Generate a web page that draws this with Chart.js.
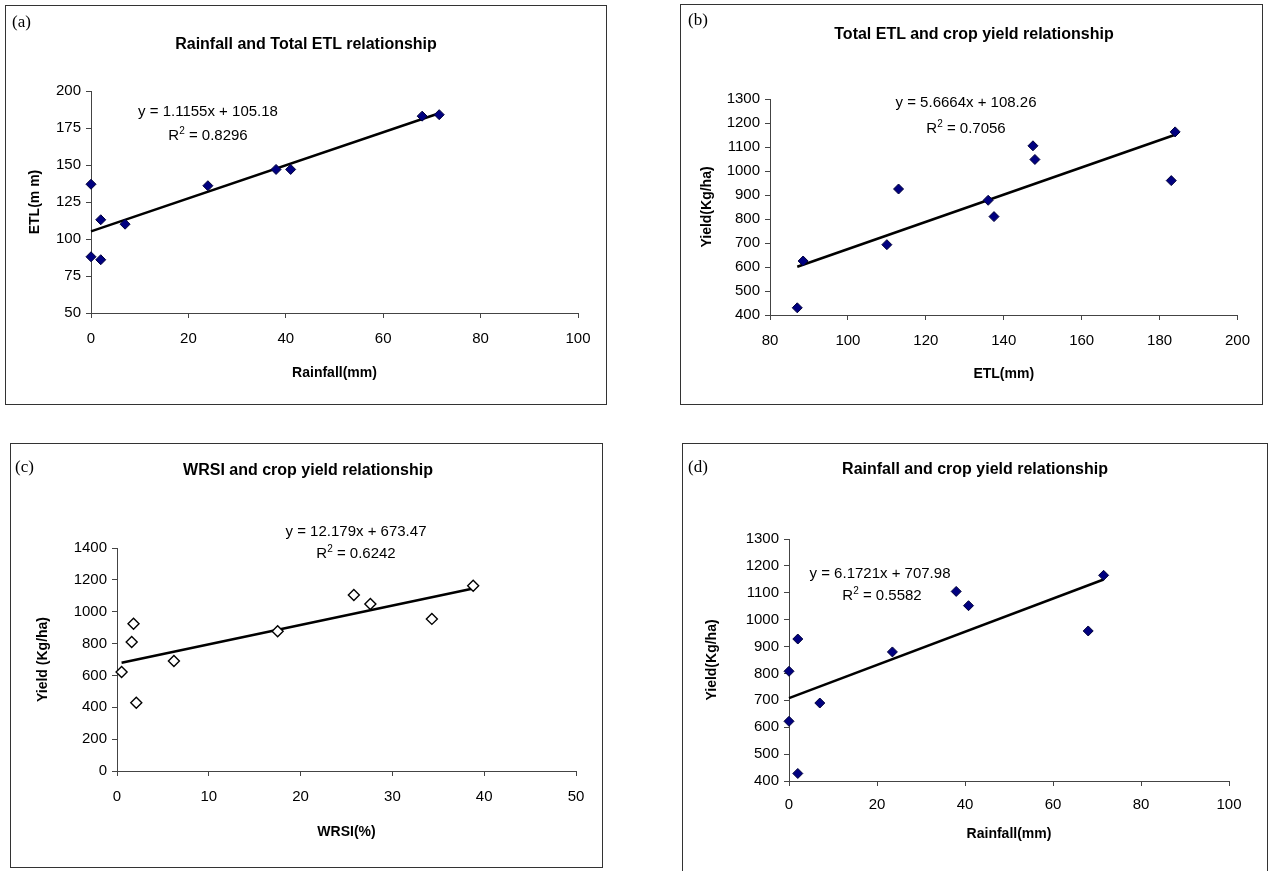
<!DOCTYPE html>
<html>
<head>
<meta charset="utf-8">
<script src="https://cdn.jsdelivr.net/npm/chart.js@4"></script>
<style>
  body { margin: 0; background: #fff; width: 1268px; height: 871px; position: relative; overflow: hidden; font-family: "Liberation Sans", Arial, sans-serif; }
  .box { position: absolute; border: 1.5px solid #333; box-sizing: border-box; }
  canvas { position: absolute; }
  .lbl { position: absolute; font-family: "Liberation Serif", serif; font-size: 17px; transform: translateY(-50%); }
  .ttl { position: absolute; font-weight: bold; font-size: 16px; transform: translate(-50%, -50%); white-space: nowrap; }
  .eq { position: absolute; font-size: 15px; transform: translate(-50%, -50%); white-space: nowrap; }
  .eq sup { font-size: 10px; }
</style>
</head>
<body>
<div class="box" style="left:5px;top:5px;width:602px;height:400px"></div>
<div class="box" style="left:680px;top:4px;width:583px;height:401px"></div>
<div class="box" style="left:10px;top:443px;width:593px;height:425px"></div>
<div class="box" style="left:682px;top:443px;width:586px;height:430px"></div>

<canvas id="chartA" style="left:6px;top:6px" width="600" height="398"></canvas>
<canvas id="chartB" style="left:681px;top:5px" width="581" height="399"></canvas>
<canvas id="chartC" style="left:11px;top:444px" width="591" height="423"></canvas>
<canvas id="chartD" style="left:683px;top:444px" width="583" height="425"></canvas>

<div class="lbl" style="left:12px;top:22px">(a)</div>
<div class="lbl" style="left:688px;top:20px">(b)</div>
<div class="lbl" style="left:15px;top:467px">(c)</div>
<div class="lbl" style="left:688px;top:467px">(d)</div>

<div class="ttl" style="left:306px;top:44px">Rainfall and Total ETL relationship</div>
<div class="ttl" style="left:974px;top:34px">Total ETL and crop yield relationship</div>
<div class="ttl" style="left:308px;top:470px">WRSI and crop yield relationship</div>
<div class="ttl" style="left:975px;top:469px">Rainfall and crop yield relationship</div>

<div class="eq" style="left:208px;top:110px">y = 1.1155x + 105.18</div>
<div class="eq" style="left:208px;top:134px">R<sup>2</sup> = 0.8296</div>
<div class="eq" style="left:966px;top:101px">y = 5.6664x + 108.26</div>
<div class="eq" style="left:966px;top:127px">R<sup>2</sup> = 0.7056</div>
<div class="eq" style="left:356px;top:530px">y = 12.179x + 673.47</div>
<div class="eq" style="left:356px;top:552px">R<sup>2</sup> = 0.6242</div>
<div class="eq" style="left:880px;top:572px">y = 6.1721x + 707.98</div>
<div class="eq" style="left:882px;top:594px">R<sup>2</sup> = 0.5582</div>

<script>
// (a) rainfall vs total ETL
const rainfallA = [0, 0, 2, 2, 7, 24, 38, 41, 68, 71.5];
const etlA = [137, 88, 113, 86, 110, 136, 147, 147, 183, 184];
// (b) total ETL vs yield
const etlB = [87, 88.5, 110, 113, 136, 137.5, 147.5, 148, 183, 184];
const yieldB = [430, 625, 693, 925, 878, 810, 1105, 1048, 960, 1163];
// (c) WRSI vs yield
const wrsiC = [0.5, 1.6, 1.8, 2.1, 6.2, 17.5, 25.8, 27.6, 34.3, 38.8];
const yieldC = [622, 810, 925, 428, 690, 878, 1105, 1048, 955, 1163];
// (d) rainfall vs yield
const rainfallD = [0, 0, 2, 2, 7, 23.5, 38, 40.8, 68, 71.5];
const yieldD = [808, 622, 928, 428, 690, 880, 1105, 1052, 958, 1165];

// trendline slope, intercept, x range
const fitA = [1.1155, 105.18, 0, 71.5];
const fitB = [5.6664, 108.26, 87, 184];
const fitC = [12.179, 673.47, 0.5, 38.8];
const fitD = [6.1721, 707.98, 0, 71.5];

const axisColor = "#444";
const tickFont = { family: "Liberation Sans", size: 15 };
const titleFont = { family: "Liberation Sans", size: 14, weight: "bold" };

function toPoints(xs, ys) {
  return xs.map((x, i) => ({ x: x, y: ys[i] }));
}

function fitLine(fit) {
  return [
    { x: fit[2], y: fit[0] * fit[2] + fit[1] },
    { x: fit[3], y: fit[0] * fit[3] + fit[1] },
  ];
}

function makeChart(id, opts) {
  const ctx = document.getElementById(id).getContext("2d");
  return new Chart(ctx, {
    type: "scatter",
    data: {
      datasets: [
        {
          data: toPoints(opts.xs, opts.ys),
          pointStyle: "rectRot",
          pointRadius: opts.open ? 5.5 : 5,
          backgroundColor: opts.open ? "#fff" : "#000080",
          borderColor: opts.open ? "#000" : "#00003a",
          borderWidth: opts.open ? 1.4 : 1,
          clip: false,
          order: 1,
        },
        {
          type: "line",
          data: fitLine(opts.fit),
          borderColor: "#000",
          borderWidth: 2.5,
          pointRadius: 0,
          fill: false,
          clip: false,
          order: 2,
        },
      ],
    },
    options: {
      responsive: false,
      animation: false,
      layout: { padding: { top: opts.top, right: opts.right, left: 0, bottom: 0 } },
      plugins: { legend: { display: false }, tooltip: { enabled: false } },
      scales: {
        x: {
          type: "linear",
          min: opts.xMin,
          max: opts.xMax,
          ticks: { stepSize: opts.xStep, color: "#000", font: tickFont, padding: opts.xPad, maxRotation: 0, callback: (v) => String(v) },
          grid: { drawOnChartArea: false, drawTicks: true, tickLength: 5, color: axisColor },
          border: { display: true, color: axisColor, width: 1 },
          title: { display: true, text: opts.xTitle, color: "#000", font: titleFont, padding: { top: 0, bottom: opts.xTitlePad } },
          afterFit: (s) => { s.height = opts.xHeight; },
        },
        y: {
          type: "linear",
          min: opts.yMin,
          max: opts.yMax,
          ticks: { stepSize: opts.yStep, color: "#000", font: tickFont, padding: 5, callback: (v) => String(v) },
          grid: { drawOnChartArea: false, drawTicks: true, tickLength: 5, color: axisColor },
          border: { display: true, color: axisColor, width: 1 },
          title: { display: true, text: opts.yTitle, color: "#000", font: titleFont, padding: { top: opts.yTitlePad, bottom: 0 } },
          afterFit: (s) => { s.width = opts.yWidth; },
        },
      },
    },
  });
}

makeChart("chartA", {
  xs: rainfallA, ys: etlA, fit: fitA,
  xMin: 0, xMax: 100, xStep: 20, yMin: 50, yMax: 200, yStep: 25,
  xTitle: "Rainfall(mm)", yTitle: "ETL(m m)",
  top: 85, right: 28, yWidth: 85, xHeight: 91, xPad: 12, xTitlePad: 22, yTitlePad: 21,
});

makeChart("chartB", {
  xs: etlB, ys: yieldB, fit: fitB,
  xMin: 80, xMax: 200, xStep: 20, yMin: 400, yMax: 1300, yStep: 100,
  xTitle: "ETL(mm)", yTitle: "Yield(Kg/ha)",
  top: 94, right: 19, yWidth: 89, xHeight: 89, xPad: 12, xTitlePad: 21, yTitlePad: 18,
});

makeChart("chartC", {
  xs: wrsiC, ys: yieldC, fit: fitC, open: true,
  xMin: 0, xMax: 50, xStep: 10, yMin: 0, yMax: 1400, yStep: 200,
  xTitle: "WRSI(%)", yTitle: "Yield (Kg/ha)",
  top: 104, right: 26, yWidth: 106, xHeight: 96, xPad: 12, xTitlePad: 26, yTitlePad: 24,
});

makeChart("chartD", {
  xs: rainfallD, ys: yieldD, fit: fitD,
  xMin: 0, xMax: 100, xStep: 20, yMin: 400, yMax: 1300, yStep: 100,
  xTitle: "Rainfall(mm)", yTitle: "Yield(Kg/ha)",
  top: 95, right: 37, yWidth: 106, xHeight: 88, xPad: 10, xTitlePad: 26, yTitlePad: 21,
});
</script>
</body>
</html>
